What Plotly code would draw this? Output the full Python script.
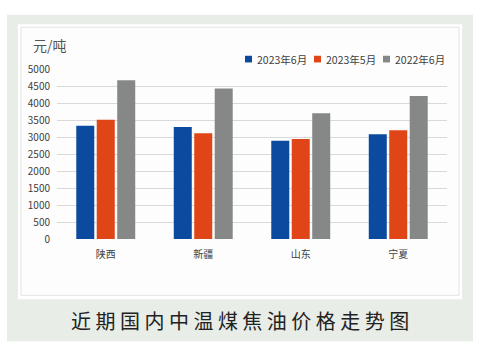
import plotly.graph_objects as go

W, H = 487, 351

categories = ["陕西", "新疆", "山东", "宁夏"]
series_names = ["2023年6月", "2023年5月", "2022年6月"]
jun_2023 = [3330, 3300, 2890, 3080]
may_2023 = [3510, 3110, 2940, 3200]
jun_2022 = [4670, 4430, 3700, 4210]
y_ticks = list(range(0, 5001, 500))
unit_label = "元/吨"
title_text = "近期国内中温煤焦油价格走势图"

colors = ["#0B4A9E", "#E04517", "#868888"]
values = [jun_2023, may_2023, jun_2022]

FONT = "Noto Sans CJK SC, Noto Sans, sans-serif"

def px_x(x):
    return x / W

def px_y(y):
    return 1 - y / H

fig = go.Figure()
for name, vals, col in zip(series_names, values, colors):
    fig.add_trace(go.Bar(x=categories, y=vals, name=name, marker=dict(color=col, line=dict(width=0)),
                         showlegend=False))

shapes = [
    dict(type="rect", xref="paper", yref="paper", x0=px_x(7), x1=px_x(473), y0=px_y(348), y1=px_y(6),
         fillcolor="#E8EDE7", line=dict(width=0), layer="below"),
    dict(type="rect", xref="paper", yref="paper", x0=px_x(18), x1=px_x(462), y0=px_y(304), y1=px_y(16),
         fillcolor="#FFFFFF", line=dict(width=0), layer="below"),
    dict(type="rect", xref="paper", yref="paper", x0=px_x(21), x1=px_x(459), y0=px_y(300), y1=px_y(19),
         fillcolor="#FDFDFD", line=dict(width=1, color="#E3E3E3"), layer="below"),
]

annotations = [
    dict(text=unit_label, xref="paper", yref="paper", x=px_x(31), y=px_y(38), xanchor="left", yanchor="middle",
         showarrow=False, font=dict(family=FONT, size=14, color="#555555")),
    dict(text=" ".join(title_text), xref="paper", yref="paper", x=px_x(240), y=px_y(326), xanchor="center",
         yanchor="middle", showarrow=False, font=dict(family=FONT, size=20, color="#222222")),
]

# manual legend
leg_x = [245, 314, 383]
for name, col, lx in zip(series_names, colors, leg_x):
    shapes.append(dict(type="rect", xref="paper", yref="paper", x0=px_x(lx), x1=px_x(lx + 7),
                       y0=px_y(56), y1=px_y(49), fillcolor=col, line=dict(width=0)))
    annotations.append(dict(text=name, xref="paper", yref="paper", x=px_x(lx + 10), y=px_y(52.5),
                            xanchor="left", yanchor="middle", showarrow=False,
                            font=dict(family=FONT, size=10.5, color="#404040")))

fig.update_layout(
    width=W, height=H,
    margin=dict(l=0, r=0, t=0, b=0),
    paper_bgcolor="#FFFFFF",
    plot_bgcolor="rgba(0,0,0,0)",
    barmode="group",
    bargap=0.37,
    bargroupgap=0.12,
    shapes=shapes,
    annotations=annotations,
    font=dict(family=FONT, size=10, color="#404040"),
    xaxis=dict(domain=[px_x(57), px_x(447)], showgrid=False, showline=False, ticks="",
               tickfont=dict(family=FONT, size=10, color="#404040"), ticklabelstandoff=8),
    yaxis=dict(domain=[px_y(241), px_y(63)], range=[0, 5000], tickvals=y_ticks,
               showgrid=True, gridcolor="#D9D9D9", gridwidth=1, zeroline=False, showline=False,
               ticks="", tickfont=dict(family=FONT, size=10, color="#404040"), ticklabelstandoff=6),
)

fig.write_html("out.html")
